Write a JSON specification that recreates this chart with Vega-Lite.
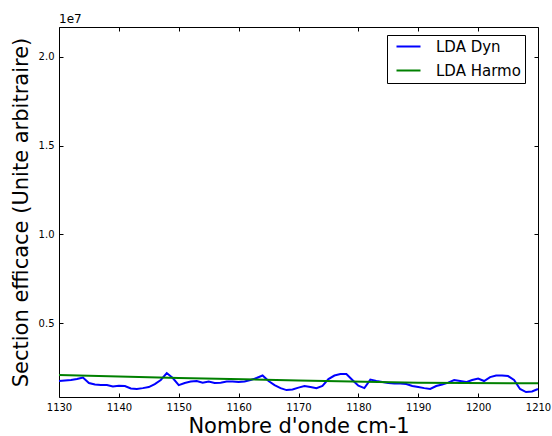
{
  "$schema": "https://vega.github.io/schema/vega-lite/v6.json",
  "autosize": "none",
  "padding": {"left": 59, "top": 27, "right": 14, "bottom": 39},
  "width": 479,
  "height": 370,
  "title": {"text": "1e7", "anchor": "start", "frame": "group", "fontSize": 12, "fontWeight": "normal", "offset": 1, "color": "black", "font": "DejaVu Sans"},
  "config": {
    "font": "DejaVu Sans",
    "view": {"stroke": "black", "strokeWidth": 1},
    "axis": {"domain": false, "grid": false, "tickColor": "black", "tickSize": -4, "labelColor": "black", "labelFontSize": 10, "labelFont": "DejaVu Sans", "titleFont": "DejaVu Sans", "titleFontWeight": "normal", "titleColor": "black", "titleFontSize": 21, "labelFlush": false}
  },
  "data": {"values": [
    {"x":1130,"y":1730000,"serie":"LDA Dyn"},{"x":1131,"y":1760000,"serie":"LDA Dyn"},{"x":1132,"y":1790000,"serie":"LDA Dyn"},{"x":1133,"y":1840000,"serie":"LDA Dyn"},{"x":1134,"y":1930000,"serie":"LDA Dyn"},{"x":1135,"y":1620000,"serie":"LDA Dyn"},{"x":1136,"y":1530000,"serie":"LDA Dyn"},{"x":1137,"y":1500000,"serie":"LDA Dyn"},{"x":1138,"y":1500000,"serie":"LDA Dyn"},{"x":1139,"y":1420000,"serie":"LDA Dyn"},{"x":1140,"y":1470000,"serie":"LDA Dyn"},{"x":1141,"y":1450000,"serie":"LDA Dyn"},{"x":1142,"y":1310000,"serie":"LDA Dyn"},{"x":1143,"y":1280000,"serie":"LDA Dyn"},{"x":1144,"y":1330000,"serie":"LDA Dyn"},{"x":1145,"y":1390000,"serie":"LDA Dyn"},{"x":1146,"y":1560000,"serie":"LDA Dyn"},{"x":1147,"y":1790000,"serie":"LDA Dyn"},{"x":1148,"y":2180000,"serie":"LDA Dyn"},{"x":1149,"y":1900000,"serie":"LDA Dyn"},{"x":1150,"y":1500000,"serie":"LDA Dyn"},{"x":1151,"y":1620000,"serie":"LDA Dyn"},{"x":1152,"y":1700000,"serie":"LDA Dyn"},{"x":1153,"y":1730000,"serie":"LDA Dyn"},{"x":1154,"y":1640000,"serie":"LDA Dyn"},{"x":1155,"y":1700000,"serie":"LDA Dyn"},{"x":1156,"y":1620000,"serie":"LDA Dyn"},{"x":1157,"y":1640000,"serie":"LDA Dyn"},{"x":1158,"y":1700000,"serie":"LDA Dyn"},{"x":1159,"y":1700000,"serie":"LDA Dyn"},{"x":1160,"y":1670000,"serie":"LDA Dyn"},{"x":1161,"y":1700000,"serie":"LDA Dyn"},{"x":1162,"y":1790000,"serie":"LDA Dyn"},{"x":1163,"y":1900000,"serie":"LDA Dyn"},{"x":1164,"y":2040000,"serie":"LDA Dyn"},{"x":1165,"y":1730000,"serie":"LDA Dyn"},{"x":1166,"y":1500000,"serie":"LDA Dyn"},{"x":1167,"y":1330000,"serie":"LDA Dyn"},{"x":1168,"y":1220000,"serie":"LDA Dyn"},{"x":1169,"y":1250000,"serie":"LDA Dyn"},{"x":1170,"y":1360000,"serie":"LDA Dyn"},{"x":1171,"y":1450000,"serie":"LDA Dyn"},{"x":1172,"y":1390000,"serie":"LDA Dyn"},{"x":1173,"y":1330000,"serie":"LDA Dyn"},{"x":1174,"y":1450000,"serie":"LDA Dyn"},{"x":1175,"y":1840000,"serie":"LDA Dyn"},{"x":1176,"y":2040000,"serie":"LDA Dyn"},{"x":1177,"y":2120000,"serie":"LDA Dyn"},{"x":1178,"y":2120000,"serie":"LDA Dyn"},{"x":1179,"y":1790000,"serie":"LDA Dyn"},{"x":1180,"y":1470000,"serie":"LDA Dyn"},{"x":1181,"y":1330000,"serie":"LDA Dyn"},{"x":1182,"y":1810000,"serie":"LDA Dyn"},{"x":1183,"y":1730000,"serie":"LDA Dyn"},{"x":1184,"y":1670000,"serie":"LDA Dyn"},{"x":1185,"y":1620000,"serie":"LDA Dyn"},{"x":1186,"y":1590000,"serie":"LDA Dyn"},{"x":1187,"y":1590000,"serie":"LDA Dyn"},{"x":1188,"y":1560000,"serie":"LDA Dyn"},{"x":1189,"y":1450000,"serie":"LDA Dyn"},{"x":1190,"y":1390000,"serie":"LDA Dyn"},{"x":1191,"y":1330000,"serie":"LDA Dyn"},{"x":1192,"y":1280000,"serie":"LDA Dyn"},{"x":1193,"y":1450000,"serie":"LDA Dyn"},{"x":1194,"y":1530000,"serie":"LDA Dyn"},{"x":1195,"y":1640000,"serie":"LDA Dyn"},{"x":1196,"y":1790000,"serie":"LDA Dyn"},{"x":1197,"y":1730000,"serie":"LDA Dyn"},{"x":1198,"y":1670000,"serie":"LDA Dyn"},{"x":1199,"y":1790000,"serie":"LDA Dyn"},{"x":1200,"y":1870000,"serie":"LDA Dyn"},{"x":1201,"y":1730000,"serie":"LDA Dyn"},{"x":1202,"y":1950000,"serie":"LDA Dyn"},{"x":1203,"y":2040000,"serie":"LDA Dyn"},{"x":1204,"y":2040000,"serie":"LDA Dyn"},{"x":1205,"y":2010000,"serie":"LDA Dyn"},{"x":1206,"y":1790000,"serie":"LDA Dyn"},{"x":1207,"y":1280000,"serie":"LDA Dyn"},{"x":1208,"y":1110000,"serie":"LDA Dyn"},{"x":1209,"y":1140000,"serie":"LDA Dyn"},{"x":1210,"y":1280000,"serie":"LDA Dyn"},
    {"x":1130,"y":2070000,"serie":"LDA Harmo"},{"x":1150,"y":1900000,"serie":"LDA Harmo"},{"x":1170,"y":1760000,"serie":"LDA Harmo"},{"x":1190,"y":1640000,"serie":"LDA Harmo"},{"x":1210,"y":1600000,"serie":"LDA Harmo"}
  ]},
  "layer": [
    {
      "mark": {"type": "line", "strokeWidth": 2, "interpolate": "linear"},
      "encoding": {
        "x": {"field": "x", "type": "quantitative", "scale": {"domain": [1130, 1210], "nice": false, "zero": false}, "axis": {"orient": "bottom", "values": [1130,1140,1150,1160,1170,1180,1190,1200,1210], "format": "d", "title": "Nombre d'onde cm-1", "labelPadding": 9, "titlePadding": 3}},
        "y": {"field": "y", "type": "quantitative", "scale": {"domain": [830000, 21690000], "nice": false, "zero": false}, "axis": {"orient": "left", "values": [5000000, 10000000, 15000000, 20000000], "labelExpr": "format(datum.value / 10000000, '.1f')", "title": "Section efficace (Unite arbitraire)", "labelPadding": 9, "titlePadding": 7}},
        "color": {"field": "serie", "type": "nominal", "scale": {"domain": ["LDA Dyn", "LDA Harmo"], "range": ["#0000ff", "#008000"]}, "legend": {"title": null, "orient": "none", "legendX": 328, "legendY": 8, "symbolType": "M-2,0H2", "symbolSize": 144, "symbolStrokeWidth": 2, "symbolOffset": 10, "labelFontSize": 15, "labelColor": "black", "labelFont": "DejaVu Sans", "strokeColor": "black", "fillColor": "white", "padding": 4, "rowPadding": 8, "labelOffset": 20, "cornerRadius": 0}}
      }
    },
    {
      "mark": {"type": "line", "strokeOpacity": 0},
      "encoding": {
        "x": {"field": "x", "type": "quantitative", "axis": {"orient": "top", "values": [1130,1140,1150,1160,1170,1180,1190,1200,1210], "labels": false, "title": null}},
        "y": {"field": "y", "type": "quantitative", "axis": {"orient": "right", "values": [5000000, 10000000, 15000000, 20000000], "labels": false, "title": null}},
        "detail": {"field": "serie"}
      }
    }
  ],
  "resolve": {"axis": {"x": "independent", "y": "independent"}}
}
